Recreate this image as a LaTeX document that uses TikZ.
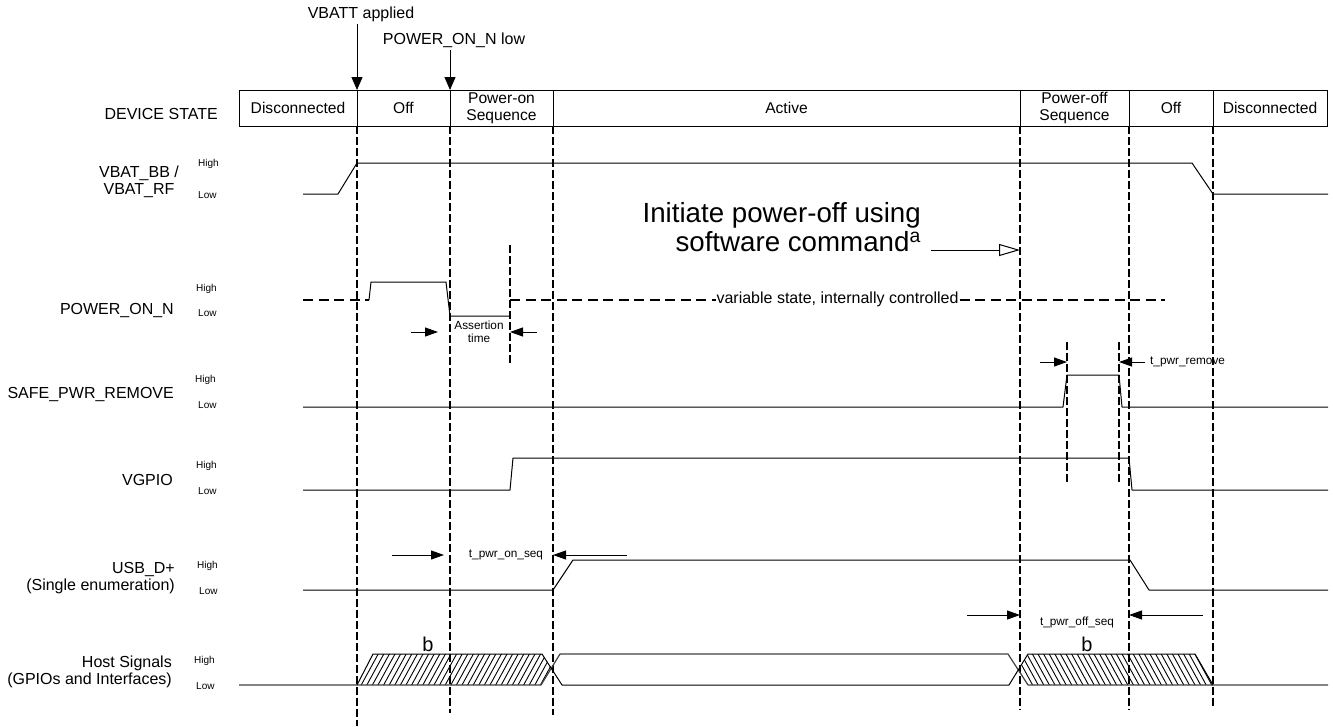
\documentclass[tikz,border=0pt]{standalone}
\usepackage{fontspec}
\setmainfont{Liberation Sans}
\usetikzlibrary{positioning,calc,arrows.meta}

\begin{document}
\begin{tikzpicture}[
        x=1pt, y=-1pt,
        font=\fontsize{16}{17}\selectfont,
        % Estilos
        statebox/.style={rectangle, draw=black, line width=1pt, align=center, minimum height=36pt, inner sep=0pt, outer sep=0pt, font=\fontsize{15.6}{17}\selectfont},
        signal/.style={align=right, anchor=east, inner sep=0pt},
        level/.style={anchor=west, inner sep=0pt, font=\fontsize{10}{12}\selectfont},
        small/.style={inner sep=0pt, align=center, font=\fontsize{11.8}{12.5}\selectfont},
        wave/.style={line width=1pt, draw=black, line join=round},
        unknown/.style={line width=1.3pt, draw=black, dash pattern=on 10pt off 5.5pt},
        guide/.style={line width=1.2pt, draw=black, dash pattern=on 7.5pt off 3.5pt},
        marker/.style={line width=1pt, -{Triangle[length=13pt,width=11pt]}},
        measure/.style={line width=1pt, -{Triangle[length=13pt,width=9pt]}},
        hollow/.style={line width=1pt, -{Triangle[open,fill=white,length=21pt,width=12pt]}},
        hatch/.style={line width=.9pt, draw=black}
    ]
    \useasboundingbox (0,0) rectangle (1333,726);

    % Fila de estados
    \node[statebox, minimum width=118pt, anchor=west] (disc1) at (239,108) {Disconnected};
    \node[statebox, minimum width=93pt, right=0pt of disc1] (off1) {Off};
    \node[statebox, minimum width=103pt, right=0pt of off1] (onseq) {Power-on\\Sequence};
    \node[statebox, minimum width=467pt, right=0pt of onseq] (active) {Active};
    \node[statebox, minimum width=109pt, right=0pt of active] (offseq) {Power-off\\Sequence};
    \node[statebox, minimum width=84pt, right=0pt of offseq] (off2) {Off};
    \node[statebox, minimum width=114pt, right=0pt of off2] (disc2) {Disconnected};

    % Guias verticales
    \foreach \st/\yend in {disc1/726, off1/713, onseq/715, active/710, offseq/710, off2/706}
        \draw[guide] (\st.south east) -- (\st.south east |- 0,\yend);

    % Marcas superiores
    \node[inner sep=0pt, outer ysep=3pt] (vbatt) at (361,14) {VBATT applied};
    \node[inner sep=0pt, outer ysep=3pt] (ponlow) at (454,40) {POWER\_ON\_N low};
    \draw[marker] (vbatt.south -| disc1.north east) -- (disc1.north east);
    \draw[marker] (ponlow.south -| off1.north east) -- (off1.north east);

    % Nombres de senales
    \node[signal] (lblstate) at (218,114) {DEVICE STATE};
    \node[align=center, inner sep=0pt] (lblvbat) at (139,182) {VBAT\_BB /\\VBAT\_RF};
    \node[signal] (lblpon) at (174,310) {POWER\_ON\_N};
    \node[signal] (lblsafe) at (174,394) {SAFE\_PWR\_REMOVE};
    \node[signal] (lblgpio) at (173,480) {VGPIO};
    \node[signal] (lblusb) at (175,578) {USB\_D+\\(Single enumeration)};
    \node[signal] (lblhost) at (172,672) {Host Signals\\(GPIOs and Interfaces)};

    % Niveles
    \foreach \nm/\xh/\yh/\xl/\yl in {vbat/198/164/198/195, pon/196/289/198/313, safe/195/380/198/405, gpio/196/466/198/491, usb/197/566/199/591, host/194/661/196/686} {
        \node[level] (high\nm) at (\xh,\yh) {High};
        \node[level] (low\nm) at (\xl,\yl) {Low};
    }

    % Formas de onda
    \draw[wave] (303,194) -- (338,194) -- (357,163) -- (1192,163) -- (1213,194) -- (1328,194);
    \draw[unknown] (303,300) -- (369,300);
    \draw[wave] (369,300) -- (371,282) -- (446,282) -- (450,316) -- (510,316);
    \draw[unknown] (510,300) -- node[midway, fill=white, inner sep=.5pt, yshift=.5pt] (varstate) {variable state, internally controlled} (1165,300);
    \draw[wave] (303,407) -- (1063,407) -- (1067,375) -- (1119,375) -- (1122,407) -- (1328,407);
    \draw[wave] (303,490) -- (510,490) -- (513,458) -- (1129,458) -- (1132,490) -- (1328,490);
    \draw[wave] (303,590) -- (553,590) -- (573,560) -- (1130,560) -- (1149,590) -- (1328,590);

    % Senales del host
    \begin{scope}
        \clip (357,685) -- (373,654) -- (542,654) -- (553,670) -- (541,685) -- cycle;
        \foreach \xh in {0,...,37}
            \draw[hatch] ({350+\xh*5.6},685) -- ({367+\xh*5.6},654);
    \end{scope}
    \begin{scope}
        \clip (1019,670) -- (1028,654) -- (1195,654) -- (1213,685) -- (1028,685) -- cycle;
        \foreach \xh in {0,...,37}
            \draw[hatch] ({1010+\xh*5.6},654) -- ({1027+\xh*5.6},685);
    \end{scope}
    \draw[wave, draw=black!75, line width=1.2pt] (239,685) -- (357,685) -- (541,685) -- (560,654) -- (1008,654) -- (1028,685) -- (1213,685) -- (1328,685);
    \draw[wave] (357,685) -- (373,654) -- (542,654) -- (562,685) -- (1009,685) -- (1028,654) -- (1195,654) -- (1213,685);

    % Cotas
    \coordinate (asrtL) at (411,332);
    \coordinate (asrtR) at (537,332);
    \draw[guide] (510,245) -- (510,365);
    \draw[measure] (asrtL) -- (438,332);
    \draw[measure] (asrtR) -- (510,332);
    \node[small] (asrt) at (479,332) {Assertion\\time};

    \coordinate (rmvL) at (1040,362);
    \coordinate (rmvR) at (1145,362);
    \draw[guide] (1067,342) -- (1067,484);
    \draw[guide] (1119,342) -- (1119,484);
    \draw[measure] (rmvL) -- (1067,362);
    \draw[measure] (rmvR) -- (1119,362);
    \node[small, anchor=west] (rmv) at (1150,362) {t\_pwr\_remove};

    \coordinate (onL) at (392,555);
    \coordinate (onR) at (627,555);
    \draw[measure] (onL) -- (444,555);
    \draw[measure] (onR) -- (onR -| onseq.south east);
    \node[small] (onlbl) at (506,555) {t\_pwr\_on\_seq};

    \coordinate (offL) at (967,615);
    \coordinate (offR) at (1203,615);
    \draw[measure] (offL) -- (offL -| active.south east);
    \draw[measure] (offR) -- (offR -| offseq.south east);
    \node[small] (offlbl) at (1077,622) {t\_pwr\_off\_seq};

    % Nota de apagado
    \node[align=right, anchor=east, inner sep=0pt, font=\fontsize{27.7}{29}\selectfont] (note) at (921,227) {Initiate power-off using\\software command\textsuperscript{a}};
    \coordinate (noteEnd) at (931,250);
    \draw[hollow] (noteEnd) -- (noteEnd -| active.south east);

    % Etiquetas b
    \node[inner sep=0pt, font=\fontsize{20}{22}\selectfont] (bon) at (428,644) {b};
    \node[inner sep=0pt, font=\fontsize{20}{22}\selectfont] (boff) at (1087,644) {b};

\end{tikzpicture}
\end{document}
